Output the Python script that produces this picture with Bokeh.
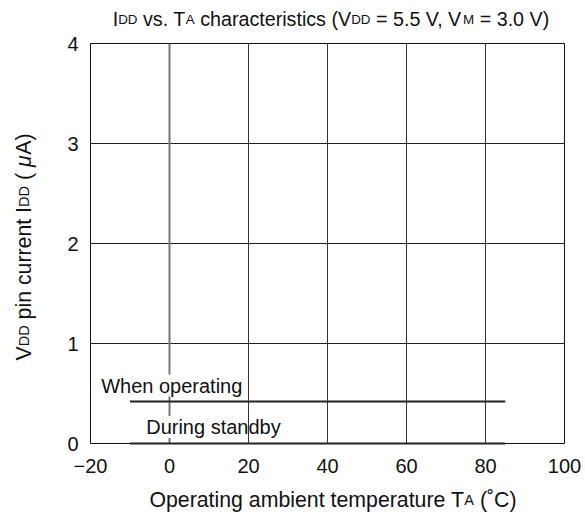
import math
from bokeh.plotting import figure
from bokeh.layouts import column, row
from bokeh.models import Range1d, FixedTicker, Label, Span, ColumnDataSource
from bokeh.core.properties import value, field
from bokeh.embed import file_html
from bokeh.resources import INLINE

# ---------------- data ----------------
x_ticks = [-20, 0, 20, 40, 60, 80, 100]
x_tick_labels = ["\u221220", "0", "20", "40", "60", "80", "100"]
y_ticks = [0, 1, 2, 3, 4]
y_tick_labels = ["0", "1", "2", "3", "4"]

temperature = [-10, 85]
operating_current = [0.42, 0.42]
standby_current = [0.0, 0.0]

FONT = "Liberation Sans"
INK = "#111111"

# Arial/Liberation Sans advance widths (per 1000 em)
W = {' ': 278, '.': 278, ',': 278, '(': 333, ')': 333, '=': 584, '0': 556, '1': 556,
     '2': 556, '3': 556, '4': 556, '5': 556, '6': 556, '7': 556, '8': 556, '9': 556,
     'A': 667, 'C': 722, 'D': 722, 'I': 278, 'M': 833, 'O': 778, 'T': 611, 'V': 667,
     'W': 944, 'a': 556, 'b': 556, 'c': 500, 'd': 556, 'e': 556, 'g': 556, 'h': 556,
     'i': 222, 'l': 222, 'm': 833, 'n': 556, 'o': 556, 'p': 556, 'r': 333, 's': 500,
     't': 278, 'u': 556, 'v': 500, 'y': 500, '\u03bc': 576, '\u02da': 333}


def tw(s, size):
    return sum(W.get(c, 556) for c in s) * size / 1000.0


def text_fig(w, h, top=0, bottom=0):
    f = figure(width=w, height=h, output_backend="svg", toolbar_location=None,
               x_range=Range1d(0, w), y_range=Range1d(h - bottom, top), title=None,
               x_axis_type=None, y_axis_type=None, min_border=0,
               min_border_top=top, min_border_bottom=bottom)
    f.outline_line_color = None
    f.background_fill_color = "white"
    f.border_fill_color = "white"
    f.xgrid.visible = False
    f.ygrid.visible = False
    return f


def rich(f, segs, center, base, vertical=False):
    total = sum(tw(t, s) for t, s, _ in segs)
    pos = -total / 2.0
    d = dict(x=[], y=[], text=[], size=[], style=[])
    for t, s, style in segs:
        lead = len(t) - len(t.lstrip(' '))
        start = pos + tw(t[:lead], s)
        txt = t.strip(' ')
        if txt:
            if vertical:
                d["x"].append(base)
                d["y"].append(center - start)
            else:
                d["x"].append(center + start)
                d["y"].append(base)
            d["text"].append(txt)
            d["size"].append(f"{s}px")
            d["style"].append(style)
        pos += tw(t, s)
    f.text(x="x", y="y", text="text", source=ColumnDataSource(d),
           text_font=value(FONT), text_font_size=field("size"),
           text_font_style=field("style"), text_color=INK,
           text_align="left", text_baseline="alphabetic",
           angle=(math.pi / 2 if vertical else 0))


# ---------------- main plot ----------------
TOP, BOT = 12, 42
p = figure(width=540, height=TOP + 400 + BOT, output_backend="svg", toolbar_location=None,
           x_range=Range1d(-20, 100), y_range=Range1d(0, 4), title=None,
           min_border_left=45, min_border_right=21, min_border_top=TOP, min_border_bottom=BOT)

p.background_fill_color = "white"
p.border_fill_color = "white"
p.outline_line_color = "#111111"
p.outline_line_width = 1

for ax in (p.xaxis, p.yaxis):
    ax.axis_line_color = None
    ax.major_tick_line_color = None
    ax.minor_tick_line_color = None
    ax.major_tick_in = 0
    ax.major_tick_out = 0
    ax.major_label_text_font = FONT
    ax.major_label_text_font_size = "20px"
    ax.major_label_text_color = INK

p.xaxis.ticker = FixedTicker(ticks=x_ticks)
p.xaxis.major_label_overrides = dict(zip(x_ticks, x_tick_labels))
p.xaxis.major_label_standoff = 15
p.yaxis.ticker = FixedTicker(ticks=y_ticks)
p.yaxis.major_label_overrides = dict(zip(y_ticks, y_tick_labels))
p.yaxis.major_label_standoff = 12

p.xgrid.ticker = FixedTicker(ticks=x_ticks[2:-1])
p.xgrid.grid_line_color = "#333333"
p.xgrid.grid_line_width = 1
p.xgrid.level = "overlay"
p.ygrid.ticker = FixedTicker(ticks=y_ticks[1:-1])
p.ygrid.grid_line_color = "#222222"
p.ygrid.grid_line_width = 1

p.add_layout(Span(location=x_ticks[1], dimension="height", line_color="#777777",
                  line_width=2, level="underlay"))

p.line(temperature, operating_current, line_color="#222222", line_width=2, level="overlay")
p.line(temperature, standby_current, line_color="#222222", line_width=2, level="overlay")

p.add_layout(Label(x=-17.3, y=0.58, text="When operating", text_font=FONT, text_font_size="20px",
                   text_color=INK, text_baseline="alphabetic", background_fill_color="white"))
p.add_layout(Label(x=-5.9, y=0.165, text="During standby", text_font=FONT, text_font_size="20px",
                   text_color=INK, text_baseline="alphabetic", background_fill_color="white"))

# ---------------- text panels ----------------
M, S = 19.7, 13.4
title_segs = [("I", M, "normal"), ("DD", S, "normal"), (" vs. T", M, "normal"), ("A", S, "normal"),
              (" characteristics (V", M, "normal"), ("DD", S, "normal"),
              (" = 5.5 V, V", M, "normal"), ("M", S, "normal"), (" = 3.0 V)", M, "normal")]
tf = text_fig(585, 31)
rich(tf, title_segs, 330.5, 18.5)

XM, XS = 21.3, 14.5
xlab_segs = [("Operating ambient temperature T", XM, "normal"), ("A", XS, "normal"),
             (" (\u02daC)", XM, "normal")]
xf = text_fig(585, 34)
rich(xf, xlab_segs, 332.5, 14.7)

ylab_segs = [("V", XM, "normal"), ("DD", XS, "normal"), (" pin current I", XM, "normal"),
             ("DD", XS, "normal"), (" ( ", XM, "normal"), ("\u03bc", XM, "italic"),
             ("A)", XM, "normal")]
yf = text_fig(45, TOP + 400 + BOT, top=TOP, bottom=BOT)
rich(yf, ylab_segs, 246.5 - 31, 23.5, vertical=True)

layout = column(tf, row(yf, p), xf)

open("out.html", "w").write(file_html(layout, INLINE))
